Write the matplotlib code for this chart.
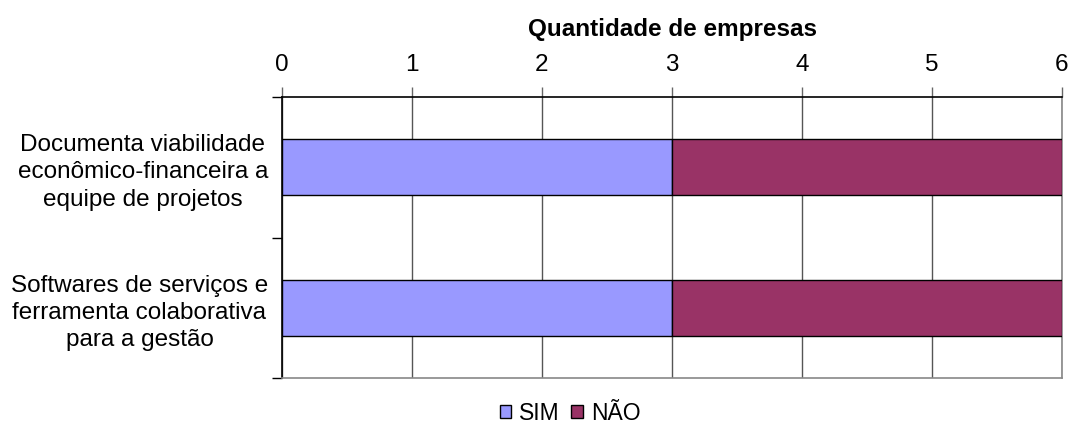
import numpy as np
import matplotlib.pyplot as plt

plt.rcParams['font.family'] = ['Liberation Sans', 'DejaVu Sans']

categorias = ["Documenta viabilidade\neconômico-financeira a\nequipe de projetos",
              "Softwares de serviços e\nferramenta colaborativa\npara a gestão"]
sim = [3, 3]
nao = [3, 3]
series = ["SIM", "NÃO"]
cores = ["#9999FF", "#993366"]

fig = plt.figure(figsize=(10.74, 4.28), dpi=100)
ax = fig.add_axes([282/1074, 1-378/428, 780/1074, 281/428])

y = np.arange(len(categorias))
ax.barh(y, sim, height=0.4, color=cores[0], edgecolor='black', linewidth=1, label=series[0], zorder=3)
ax.barh(y, nao, left=sim, height=0.4, color=cores[1], edgecolor='black', linewidth=1, label=series[1], zorder=3)

ax.set_xlim(0, 6)
ax.set_ylim(1.5, -0.5)
ax.xaxis.tick_top()
ax.xaxis.set_label_position('top')
ax.set_xticks(range(0, 7))
ax.set_xlabel("Quantidade de empresas", fontsize=17.5, fontweight='bold', labelpad=13)
ax.tick_params(axis='x', direction='out', length=7, width=1, colors='#666666',
               labelcolor='black', labelsize=17.5, pad=8)
ax.grid(axis='x', color='#555555', linewidth=1, zorder=0)

ax.set_yticks([-0.5, 0.5, 1.5], minor=False)
ax.set_yticklabels([])
ax.set_yticks(y, minor=True)
ax.set_yticklabels(categorias, minor=True, fontsize=17.5, multialignment='center',
                   linespacing=1.32)
ax.tick_params(axis='y', which='major', direction='out', length=7, width=1)
ax.tick_params(axis='y', which='minor', length=0, pad=10)

ax.spines['top'].set_color('black')
ax.spines['left'].set_color('black')
ax.spines['right'].set_color('#888888')
ax.spines['bottom'].set_color('#888888')
for s in ax.spines.values():
    s.set_linewidth(1.2)

fig.legend(loc='center', bbox_to_anchor=(570/1074, 1-413/428), ncol=2, frameon=False,
           fontsize=16.5, handlelength=0.5, handleheight=0.5, handletextpad=0.35,
           columnspacing=0.5, borderpad=0)

fig.savefig("out.png", dpi=100)
